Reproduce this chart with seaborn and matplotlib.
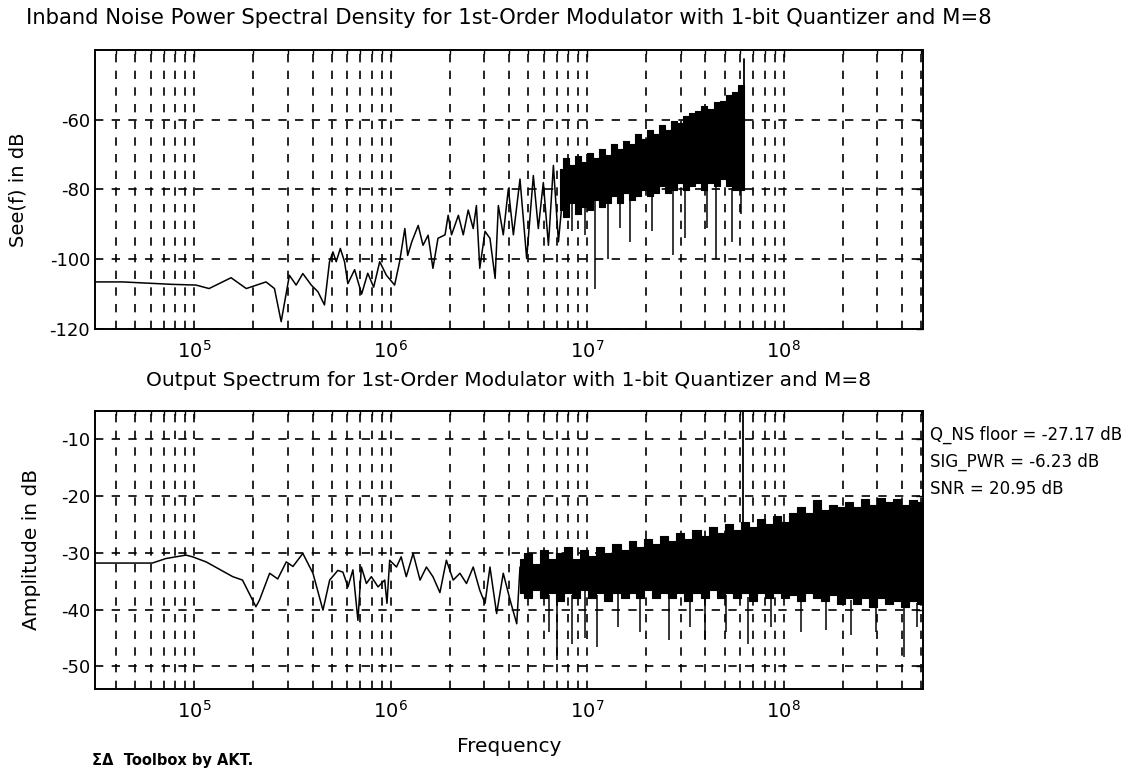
import numpy as np
import pandas as pd
import matplotlib
matplotlib.use("Agg")
import matplotlib.pyplot as plt
import seaborn as sns
from matplotlib.ticker import LogLocator, FixedLocator, NullFormatter

# ---------------- data ----------------
# Top panel: in-band noise PSD, sparse (line) part
psd_f = [3.125e4, 4.31e4, 7.74e4, 1.02e5, 1.19e5, 1.54e5, 1.84e5, 2.32e5, 2.56e5, 2.77e5,
         3.05e5, 3.30e5, 3.57e5, 3.94e5, 4.26e5, 4.60e5, 4.88e5, 5.08e5, 5.28e5, 5.54e5,
         5.82e5, 6.05e5, 6.55e5, 7.11e5, 7.64e5, 8.19e5, 8.79e5, 9.51e5, 1.047e6, 1.11e6,
         1.18e6, 1.22e6, 1.28e6, 1.38e6, 1.46e6, 1.55e6, 1.64e6, 1.74e6, 1.89e6, 1.96e6,
         2.04e6, 2.21e6, 2.34e6, 2.48e6, 2.63e6, 2.73e6, 2.84e6, 3.02e6, 3.20e6, 3.40e6,
         3.53e6, 3.74e6, 3.97e6, 4.21e6, 4.55e6, 4.92e6, 5.32e6, 5.64e6, 5.98e6, 6.35e6,
         6.73e6, 7.14e6, 7.73e6]
psd_db = [-106.5, -106.5, -107.2, -107.4, -108.4, -105.3, -108.4, -106.5, -108.4, -117.9,
          -104.6, -107.4, -104.1, -107.4, -109.3, -113.1, -100.7, -97.9, -100.7, -96.9,
          -100.7, -107.0, -103.0, -110.0, -104.0, -108.0, -100.7, -104.6, -107.4, -100.7,
          -91.2, -98.9, -95.0, -90.3, -96.0, -93.1, -102.6, -94.0, -93.0, -87.4,
          -93.0, -87.4, -93.0, -85.9, -91.2, -84.6, -102.6, -92.0, -94.0, -105.5,
          -84.6, -93.0, -79.8, -93.0, -77.0, -99.8, -76.0, -91.2, -78.0, -96.0,
          -73.1, -95.0, -74.0]
# Top panel: dense band (upper / lower edge of the black area)
psd_band_f = [7.28e6, 7.82e6, 8.38e6, 8.99e6, 9.66e6, 1.036e7, 1.11e7, 1.19e7, 1.28e7, 1.37e7,
              1.47e7, 1.58e7, 1.70e7, 1.82e7, 1.95e7, 2.10e7, 2.25e7, 2.41e7, 2.59e7, 2.78e7,
              2.98e7, 3.20e7, 3.43e7, 3.68e7, 3.95e7, 4.24e7, 4.55e7, 4.88e7, 5.24e7, 5.62e7,
              6.04e7, 6.32e7]
psd_band_hi = [-74, -71, -73, -70.5, -72, -69.5, -71, -68.5, -70, -67,
               -68.5, -66, -67, -64, -65.5, -63, -64, -61.5, -63, -60.5,
               -61, -59, -58, -57.5, -56, -57, -55, -54.5, -53, -52,
               -50, -50]
psd_band_lo = [-86, -88, -84, -87, -85, -86, -83, -85, -84, -82,
               -84, -81, -83, -82, -80, -82, -81, -79, -81, -80,
               -78, -80, -79, -78, -80, -78, -79, -77, -79, -80,
               -80, -80]
psd_spike_f = [8.4e6, 9.7e6, 1.10e7, 1.28e7, 1.47e7, 1.66e7, 2.14e7, 2.74e7, 3.16e7, 4.08e7,
               4.50e7, 5.47e7, 6.04e7]
psd_spike_db = [-92, -93, -108.4, -99.8, -91, -95, -92, -98.9, -94, -91,
                -99.8, -95, -87]
psd_edge_f = [6.30e7, 6.30e7]
psd_edge_db = [-80, -42.7]

# Bottom panel: output spectrum, sparse (line) part
out_f = [3.125e4, 6.12e4, 7.18e4, 9.08e4, 9.80e4, 1.15e5, 1.57e5, 1.76e5, 2.06e5, 2.15e5,
         2.42e5, 2.66e5, 2.94e5, 3.18e5, 3.57e5, 4.02e5, 4.52e5, 4.89e5, 5.38e5, 5.71e5,
         6.06e5, 6.42e5, 6.81e5, 7.09e5, 7.52e5, 7.97e5, 8.62e5, 9.32e5, 9.57e5, 9.88e5,
         1.07e6, 1.13e6, 1.20e6, 1.30e6, 1.41e6, 1.52e6, 1.64e6, 1.78e6, 1.92e6, 2.08e6,
         2.25e6, 2.43e6, 2.63e6, 2.84e6, 3.02e6, 3.20e6, 3.46e6, 3.74e6, 4.05e6, 4.38e6,
         4.55e6]
out_db = [-31.8, -31.8, -31.0, -30.4, -30.7, -31.6, -34.2, -34.8, -39.5, -38.3,
          -33.6, -34.6, -31.6, -32.4, -30.1, -33.6, -40.1, -34.8, -33.1, -33.4,
          -36.0, -33.0, -41.9, -32.5, -35.4, -34.2, -36.0, -34.8, -38.9, -31.3,
          -32.5, -30.7, -34.2, -30.1, -34.8, -32.5, -34.2, -37.0, -31.3, -34.8,
          -33.6, -35.4, -32.5, -36.6, -38.9, -32.5, -40.7, -33.6, -38.3, -42.5,
          -32.5]
# Bottom panel: dense band
out_band_f = [4.55e6, 5.00e6, 5.49e6, 6.04e6, 6.63e6, 7.28e6, 8.00e6, 8.79e6, 9.66e6, 1.06e7,
              1.165e7, 1.28e7, 1.41e7, 1.55e7, 1.70e7, 1.86e7, 2.05e7, 2.25e7, 2.47e7, 2.71e7,
              2.98e7, 3.27e7, 3.60e7, 3.95e7, 4.34e7, 4.77e7, 5.24e7, 5.75e7, 6.32e7, 6.95e7,
              7.63e7, 8.38e7, 9.20e7, 1.01e8, 1.11e8, 1.22e8, 1.34e8, 1.47e8, 1.62e8, 1.78e8,
              1.95e8, 2.15e8, 2.36e8, 2.59e8, 2.84e8, 3.13e8, 3.43e8, 3.77e8, 4.14e8, 4.55e8,
              5.00e8, 5.12e8]
out_band_hi = [-31, -30, -32, -29.5, -31, -30, -29, -31, -29.5, -30.5,
               -29, -30, -28.5, -29.5, -28, -29, -27.5, -28.5, -27, -28,
               -26.5, -27.5, -26, -27, -25.5, -26.5, -25, -26, -24.5, -25.5,
               -24, -25, -23.5, -24.5, -23, -22, -23, -20.7, -22.5, -21.5,
               -22, -21, -22, -20.5, -21.5, -20.4, -21, -20.5, -21.5, -20.7,
               -21, -21]
out_band_lo = [-37, -38, -36.5, -38, -37, -38.5, -37, -38, -36.5, -38,
               -37, -38.5, -37, -38, -37, -38, -36.5, -38, -37, -38,
               -37, -38.5, -37, -38, -36.5, -38, -37, -38, -37, -38.5,
               -37, -38, -37, -38, -37.5, -38.5, -37, -38, -38.5, -37.5,
               -39, -38, -39, -38, -39.5, -38, -39, -38.5, -39.5, -38.5,
               -39, -39]
out_spike_f = [6.40e6, 7.0e6, 8.38e6, 9.77e6, 1.12e7, 1.44e7, 1.86e7, 2.60e7, 3.35e7, 4.0e7,
               5.06e7, 6.61e7, 8.59e7, 1.22e8, 1.64e8, 2.20e8, 2.95e8, 4.11e8, 4.78e8]
out_spike_db = [-44, -48.9, -46, -45, -46.6, -43, -44, -45.4, -43, -45.4,
                -44, -46, -43, -44, -43.6, -44.5, -44, -48.3, -43]
signal_f = [6.2e7, 6.2e7]
signal_db = [-36, -5]

annotations = ["Q_NS floor = -27.17 dB", "SIG_PWR = -6.23 dB", "SNR = 20.95 dB"]
top_yticks = [-120, -100, -80, -60]
bot_yticks = [-50, -40, -30, -20, -10]

# ---------------- figure ----------------
sns.set_theme(style="white")
plt.rcParams['font.family'] = ['DejaVu Sans']
plt.rcParams['axes.unicode_minus'] = False
W, H = 1139, 772
fig = plt.figure(figsize=(W / 100, H / 100), dpi=100)

def px_ax(x0, y0, x1, y1):
    return fig.add_axes([x0 / W, 1 - y1 / H, (x1 - x0) / W, (y1 - y0) / H])

ax1 = px_ax(95, 50, 923, 329)
ax2 = px_ax(95, 411, 923, 689)

XLIM = (3.125e4, 5.12e8)

def style_axes(ax, ylim, yticks):
    ax.set_xscale('log')
    ax.set_xlim(*XLIM)
    ax.set_ylim(*ylim)
    ax.yaxis.set_major_locator(FixedLocator(yticks))
    ax.xaxis.set_major_locator(LogLocator(base=10, numticks=20))
    ax.xaxis.set_minor_locator(LogLocator(base=10, subs=np.arange(2, 10), numticks=20))
    ax.xaxis.set_minor_formatter(NullFormatter())
    ax.grid(True, which='major', axis='both', color='black', linestyle=(0, (5, 5)), linewidth=1.2)
    ax.grid(True, which='minor', axis='x', color='black', linestyle=(0, (5, 5)), linewidth=1.2)
    ax.set_axisbelow(True)
    ax.tick_params(which='both', direction='in', top=True, right=True, colors='black',
                   labelsize=13)
    ax.tick_params(which='major', length=5, width=1)
    ax.tick_params(which='minor', length=3, width=1)
    ax.tick_params(axis='x', labelsize=14, pad=8)
    for s in ax.spines.values():
        s.set_color('black')
        s.set_linewidth(1.4)
    ax.set_xlabel('')
    ax.set_ylabel('')

# top panel
sns.lineplot(x=psd_f, y=psd_db, ax=ax1, color='black', linewidth=1.1, estimator=None, sort=False)
ax1.fill_between(psd_band_f, psd_band_lo, psd_band_hi, step='mid', color='black',
                 linewidth=0.8, edgecolor='black')
lo_top = np.interp(np.log10(psd_spike_f), np.log10(psd_band_f), psd_band_lo)
ax1.vlines(psd_spike_f, psd_spike_db, lo_top, color='black', linewidth=1.1)
sns.lineplot(x=psd_edge_f, y=psd_edge_db, ax=ax1, color='black', linewidth=1.3, estimator=None, sort=False)
style_axes(ax1, (-120, -40), top_yticks)

# bottom panel
sns.lineplot(x=out_f, y=out_db, ax=ax2, color='black', linewidth=1.1, estimator=None, sort=False)
ax2.fill_between(out_band_f, out_band_lo, out_band_hi, step='mid', color='black',
                 linewidth=0.8, edgecolor='black')
lo_bot = np.interp(np.log10(out_spike_f), np.log10(out_band_f), out_band_lo)
ax2.vlines(out_spike_f, out_spike_db, lo_bot, color='black', linewidth=1.1)
sns.lineplot(x=signal_f, y=signal_db, ax=ax2, color='black', linewidth=1.3, estimator=None, sort=False)
style_axes(ax2, (-54, -5), bot_yticks)

# texts
cx = (95 + 923) / 2 / W
fig.text(cx, 1 - 18 / H, 'Inband Noise Power Spectral Density for 1st-Order Modulator with 1-bit Quantizer and M=8',
         ha='center', va='center', fontsize=15.2, color='black')
fig.text(cx, 1 - 381 / H, 'Output Spectrum for 1st-Order Modulator with 1-bit Quantizer and M=8',
         ha='center', va='center', fontsize=14.5, color='black')
fig.text(18 / W, 1 - 190 / H, 'See(f) in dB', rotation=90, ha='center', va='center', fontsize=14, color='black')
fig.text(32 / W, 1 - 550 / H, 'Amplitude in dB', rotation=90, ha='center', va='center', fontsize=14.5, color='black')
fig.text(cx, 1 - 746 / H, 'Frequency', ha='center', va='center', fontsize=14.5, color='black')
for i, t in enumerate(annotations):
    fig.text(930 / W, 1 - (435 + 27 * i) / H, t, ha='left', va='center', fontsize=12, color='black')
fig.text(92 / W, 1 - 760 / H, 'ΣΔ  Toolbox by AKT.', ha='left', va='center', fontsize=10.5,
         color='black', fontweight='semibold')

fig.savefig('out.png', dpi=100, facecolor='white')
